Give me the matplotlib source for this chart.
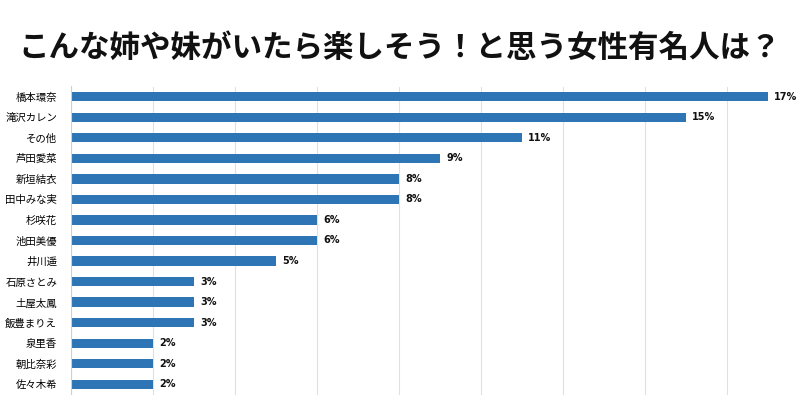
import matplotlib
matplotlib.use("Agg")
import matplotlib.pyplot as plt

plt.rcParams['font.family'] = ['Noto Sans CJK JP', 'DejaVu Sans']

title = "こんな姉や妹がいたら楽しそう！と思う女性有名人は？"
names = ["橋本環奈", "滝沢カレン", "その他", "芦田愛菜", "新垣結衣", "田中みな実", "杉咲花",
         "池田美優", "井川遥", "石原さとみ", "土屋太鳳", "飯豊まりえ", "泉里香", "朝比奈彩", "佐々木希"]
values = [17, 15, 11, 9, 8, 8, 6, 6, 5, 3, 3, 3, 2, 2, 2]

fig = plt.figure(figsize=(8, 4), dpi=100)
ax = fig.add_axes([71/800, 1 - 394.5/400, 1 - 71/800, (394.5 - 86.5)/400])

y = list(range(len(names)))
ax.barh(y, values, height=0.45, color="#2e75b6", zorder=2)
ax.set_ylim(len(names) - 0.5, -0.5)
ax.set_xlim(0, 729/41)
ax.set_xticks(range(0, 18, 2))
ax.xaxis.grid(True, color="#e0e0e0", linewidth=0.8, zorder=0)
ax.tick_params(axis='x', length=0, labelbottom=False)
ax.tick_params(axis='y', length=0, pad=10, labelsize=7.5)
ax.set_yticks(y)
ax.set_yticklabels(names)
for s in ['top', 'right', 'bottom']:
    ax.spines[s].set_visible(False)
ax.spines['left'].set_color("#d0d0d0")
ax.spines['left'].set_linewidth(0.8)

for yi, v in zip(y, values):
    ax.text(v + 0.15, yi, f"{v}%", va='center', ha='left', fontsize=7, fontweight='bold',
            color="#111111", family=['DejaVu Sans'])

fig.text(0.5, 1 - 48/400, title, ha='center', va='center', fontsize=22, fontweight='bold', color="#111111")

fig.savefig("out.png", dpi=100)
